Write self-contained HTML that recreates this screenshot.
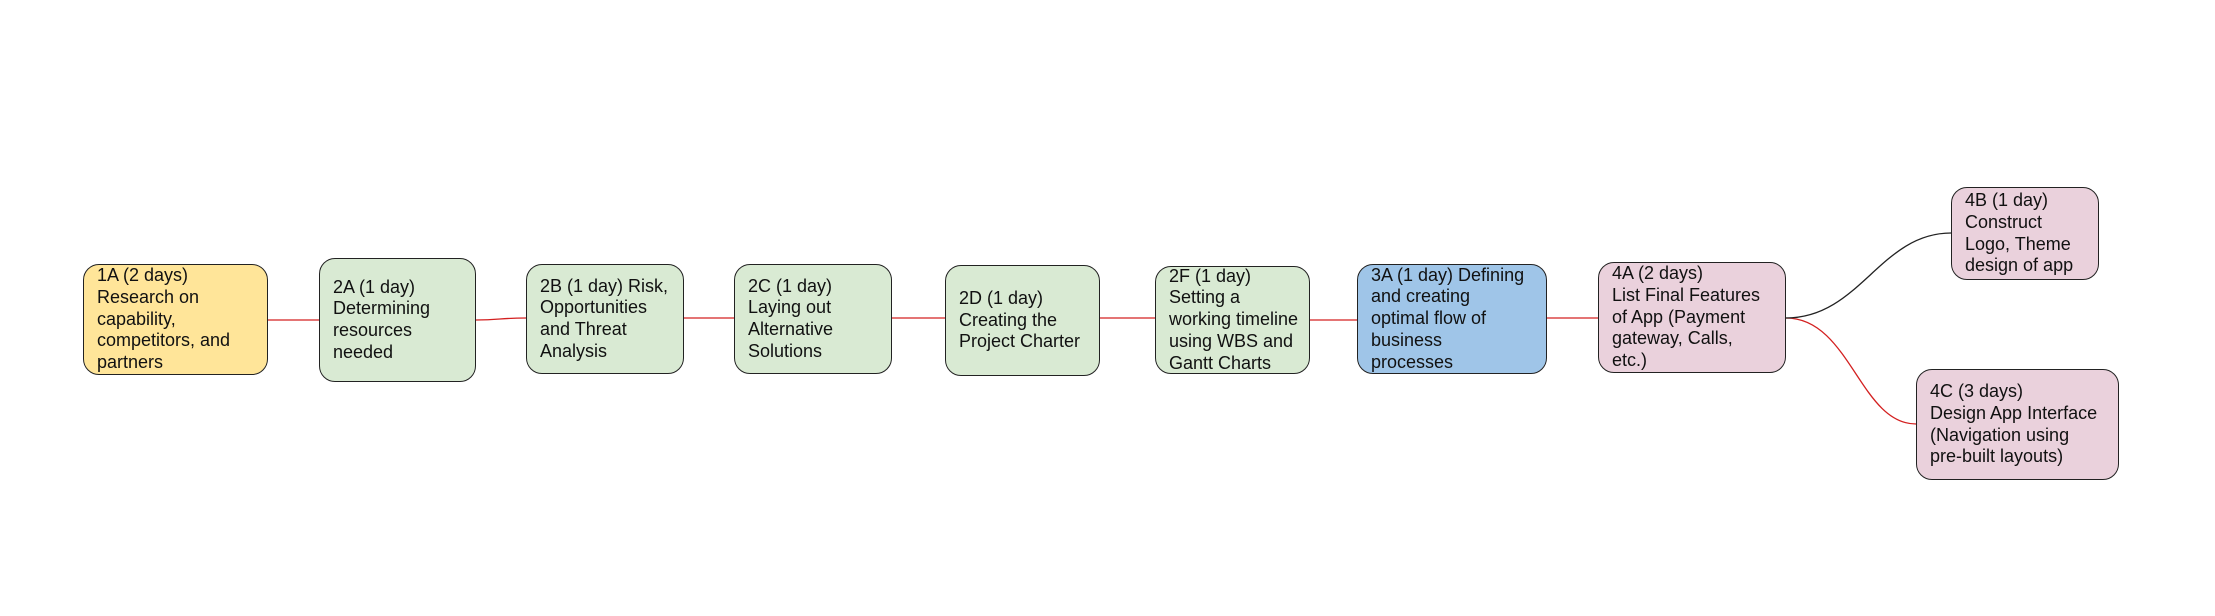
<!DOCTYPE html>
<html><head><style>
body{margin:0;width:2215px;height:616px;background:#fff;position:relative;overflow:hidden;font-family:"Liberation Sans",Arial,sans-serif;}
.b{position:absolute;box-sizing:border-box;border:1.3px solid #222;border-radius:16px;display:flex;align-items:center;padding:0 8px 0 13px;font-size:18px;line-height:21.7px;color:#111;white-space:nowrap;}
.g{background:#d9ead3}.p{background:#ead1dc}
svg{position:absolute;left:0;top:0}
</style></head><body>
<svg width="2215" height="616">
<g stroke="#d32020" stroke-width="1.3" fill="none">
<line x1="268" y1="320" x2="319" y2="320"/>
<path d="M476 320 C500 320 500 318 526 318"/>
<line x1="684" y1="318" x2="734" y2="318"/>
<line x1="892" y1="318" x2="945" y2="318"/>
<line x1="1100" y1="318" x2="1155" y2="318"/>
<line x1="1310" y1="320" x2="1357" y2="320"/>
<line x1="1547" y1="318" x2="1598" y2="318"/>
<path d="M1786 318 C1850 318 1860 424 1916 424"/>
</g>
<path d="M1786 318 C1860 318 1880 233 1951 233" stroke="#222" stroke-width="1.3" fill="none"/>
</svg>
<div class="b" style="background:#ffe599;left:83px;top:264px;width:185px;height:111px">1A (2 days)<br>Research on<br>capability,<br>competitors, and<br>partners</div>
<div class="b g" style="left:319px;top:258px;width:157px;height:124px">2A (1 day)<br>Determining<br>resources<br>needed</div>
<div class="b g" style="left:526px;top:264px;width:158px;height:110px">2B (1 day) Risk,<br>Opportunities<br>and Threat<br>Analysis</div>
<div class="b g" style="left:734px;top:264px;width:158px;height:110px">2C (1 day)<br>Laying out<br>Alternative<br>Solutions</div>
<div class="b g" style="left:945px;top:265px;width:155px;height:111px">2D (1 day)<br>Creating the<br>Project Charter</div>
<div class="b g" style="left:1155px;top:266px;width:155px;height:108px">2F (1 day)<br>Setting a<br>working timeline<br>using WBS and<br>Gantt Charts</div>
<div class="b" style="background:#9fc5e8;left:1357px;top:264px;width:190px;height:110px">3A (1 day) Defining<br>and creating<br>optimal flow of<br>business<br>processes</div>
<div class="b p" style="left:1598px;top:262px;width:188px;height:111px">4A (2 days)<br>List Final Features<br>of App (Payment<br>gateway, Calls,<br>etc.)</div>
<div class="b p" style="left:1951px;top:187px;width:148px;height:93px">4B (1 day)<br>Construct<br>Logo, Theme<br>design of app</div>
<div class="b p" style="left:1916px;top:369px;width:203px;height:111px">4C (3 days)<br>Design App Interface<br>(Navigation using<br>pre-built layouts)</div>
</body></html>
